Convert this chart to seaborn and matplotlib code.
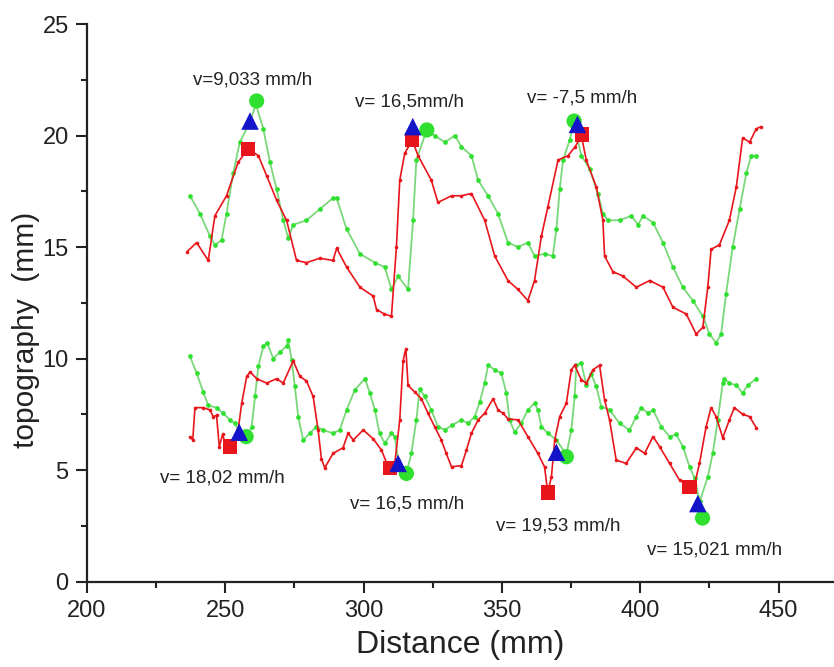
import matplotlib
matplotlib.use("Agg")
import matplotlib.pyplot as plt
import seaborn as sns
import pandas as pd
from matplotlib.ticker import MultipleLocator

# ---- data ----
upper_red_x = [236.3, 239.7, 243.9, 246.3, 250.5, 254.7, 258.3, 262.0, 265.0, 268.6, 272.2, 275.8, 279.4, 284.2,
               289.0, 290.3, 293.9, 298.7, 303.5, 304.7, 307.5, 310.1, 311.9, 313.1, 314.9, 317.6, 319.7, 324.5,
               326.9, 331.8, 335.4, 339.0, 343.8, 347.4, 352.2, 355.8, 359.4, 361.8, 364.3, 366.6, 370.3, 373.9,
               376.5, 378.7, 380.5, 384.1, 386.5, 387.1, 390.1, 393.7, 398.6, 403.4, 408.2, 411.8, 416.6, 420.2,
               422.6, 424.4, 425.6, 428.6, 432.2, 434.7, 437.0, 439.5, 441.9, 443.6]
upper_red_y = [14.8, 15.2, 14.4, 16.4, 17.3, 18.8, 19.4, 19.1, 18.2, 17.1, 16.2, 14.4, 14.3, 14.5,
               14.4, 14.95, 14.1, 13.2, 12.8, 12.2, 12.0, 11.9, 15.0, 18.0, 19.2, 19.8, 19.1, 18.0,
               17.0, 17.3, 17.3, 17.4, 16.2, 14.6, 13.5, 13.1, 12.6, 13.5, 15.5, 16.8, 18.9, 19.1,
               19.5, 20.0, 18.9, 17.7, 16.2, 14.6, 13.9, 13.7, 13.2, 13.5, 13.2, 12.3, 12.0, 11.1,
               11.4, 13.2, 14.9, 15.1, 16.2, 17.7, 19.9, 19.7, 20.3, 20.4]

upper_green_x = [237.3, 240.9, 244.5, 246.3, 248.7, 250.5, 252.9, 255.3, 259.0, 261.1, 263.8, 266.2, 268.6, 271.0,
                 272.8, 274.6, 279.4, 284.2, 289.0, 290.3, 293.9, 298.7, 304.1, 307.7, 310.1, 312.5, 316.1, 317.9,
                 319.1, 322.7, 325.7, 329.4, 333.0, 335.4, 339.0, 341.4, 345.0, 348.6, 352.2, 355.8, 359.4, 361.8,
                 365.4, 368.4, 369.7, 370.9, 372.1, 374.5, 376.0, 378.7, 381.7, 384.7, 386.5, 388.3, 392.5, 396.8,
                 399.2, 401.0, 404.6, 408.2, 411.8, 415.4, 419.0, 422.6, 425.0, 427.4, 429.2, 431.0, 433.4, 435.9,
                 438.3, 440.1, 441.9]
upper_green_y = [17.3, 16.5, 15.5, 15.1, 15.3, 16.5, 18.3, 19.7, 20.6, 21.4, 20.3, 18.8, 17.6, 16.2,
                 15.4, 16.0, 16.2, 16.7, 17.2, 17.2, 15.8, 14.7, 14.3, 14.1, 13.1, 13.7, 13.1, 16.2,
                 18.9, 20.2, 20.0, 19.7, 20.0, 19.5, 19.1, 18.0, 17.3, 16.5, 15.2, 15.0, 15.2, 14.6,
                 14.7, 14.6, 15.8, 17.6, 18.9, 19.8, 20.6, 19.1, 18.5, 17.4, 16.5, 16.2, 16.2, 16.4,
                 16.0, 16.4, 16.1, 15.2, 14.1, 13.2, 12.6, 11.9, 11.1, 10.7, 11.1, 12.9, 15.0, 16.7,
                 18.3, 19.1, 19.1]

lower_red_x = [237.3, 238.3, 239.1, 242.1, 244.5, 245.7, 246.9, 247.9, 249.1, 250.0, 251.7, 253.5, 254.7, 256.0,
               257.8, 259.0, 261.4, 265.0, 268.6, 271.0, 274.6, 277.0, 279.4, 281.8, 283.6, 284.8, 286.0, 289.0,
               292.6, 294.4, 296.3, 299.9, 303.5, 306.5, 308.9, 311.3, 313.1, 314.3, 315.3, 316.1, 318.5, 320.9,
               323.3, 325.7, 328.1, 329.9, 331.8, 335.4, 337.2, 339.0, 341.4, 343.8, 346.8, 348.6, 350.4, 352.2,
               355.8, 359.4, 363.0, 365.4, 366.6, 367.9, 369.1, 370.9, 373.3, 375.1, 376.3, 378.7, 380.5, 382.9,
               385.3, 387.1, 388.9, 391.3, 394.9, 398.6, 401.6, 404.6, 407.0, 410.6, 414.2, 417.8, 419.6, 421.4,
               423.8, 425.6, 427.4, 429.8, 432.2, 434.0, 437.0, 439.5, 441.9]
lower_red_y = [6.5, 6.35, 7.8, 7.8, 7.7, 7.4, 7.45, 6.05, 6.6, 6.2, 6.1, 6.35, 6.8, 8.0,
               9.2, 9.4, 9.1, 8.9, 9.1, 8.9, 9.9, 9.2, 9.0, 8.3, 6.8, 5.5, 5.1, 5.75,
               6.0, 6.65, 6.35, 6.8, 6.4, 5.9, 5.15, 5.3, 7.25, 9.9, 10.45, 8.8, 8.5, 8.2,
               7.55, 6.95, 6.35, 5.75, 5.15, 5.2, 5.9, 6.65, 7.25, 7.55, 8.2, 7.7, 7.55, 7.3,
               7.25, 6.5, 5.75, 5.15, 4.0, 4.7, 6.35, 7.4, 8.0, 9.5, 9.7, 9.05, 8.9, 9.5,
               9.7, 8.15, 7.25, 5.45, 5.3, 6.0, 5.75, 6.5, 6.05, 5.3, 4.55, 4.25, 4.35, 5.3,
               6.95, 7.8, 7.4, 6.45, 7.25, 7.8, 7.5, 7.4, 6.9]

lower_green_x = [237.3, 239.7, 242.1, 243.9, 246.9, 249.3, 251.7, 253.5, 255.1, 257.8, 259.6, 260.8, 262.0, 263.8,
                 265.2, 267.4, 269.8, 272.2, 272.8, 274.0, 275.2, 276.4, 278.2, 280.6, 283.0, 285.4, 289.0, 291.4,
                 293.9, 296.9, 300.5, 302.3, 304.1, 305.8, 307.7, 310.1, 311.3, 312.5, 315.5, 317.3, 319.1, 320.3,
                 322.1, 324.5, 326.9, 329.4, 331.8, 335.4, 337.8, 340.2, 342.0, 343.8, 345.0, 347.4, 349.8, 351.6,
                 352.8, 354.6, 357.0, 359.4, 361.8, 363.0, 364.3, 366.6, 369.7, 373.3, 375.1, 376.3, 376.9, 378.7,
                 380.5, 382.3, 384.1, 385.9, 388.9, 392.5, 396.1, 398.6, 400.4, 402.8, 404.6, 407.6, 410.6, 413.0,
                 415.4, 417.8, 419.6, 421.5, 424.4, 426.2, 428.0, 429.8, 430.4, 432.2, 434.7, 437.0, 438.8, 441.9]
lower_green_y = [10.1, 9.35, 8.5, 7.9, 7.8, 7.55, 7.25, 7.1, 6.7, 6.5, 6.95, 8.3, 9.65, 10.55,
                 10.7, 10.0, 10.3, 10.55, 10.85, 9.95, 8.75, 7.4, 6.35, 6.65, 6.95, 6.8, 6.65, 6.8,
                 7.7, 8.6, 9.1, 8.45, 7.7, 6.65, 6.2, 6.65, 6.5, 5.45, 4.85, 5.75, 7.25, 8.65,
                 8.3, 7.7, 6.95, 6.8, 7.0, 7.25, 7.1, 7.4, 8.05, 8.9, 9.7, 9.5, 9.35, 8.45,
                 7.25, 6.7, 7.1, 7.7, 8.0, 7.7, 6.95, 6.65, 6.35, 5.7, 6.8, 8.3, 9.7, 9.8,
                 8.8, 9.3, 8.75, 7.85, 7.7, 7.1, 6.8, 7.4, 7.8, 7.55, 7.7, 6.95, 6.5, 6.6,
                 6.05, 5.15, 4.65, 3.6, 4.7, 5.75, 7.25, 8.9, 9.1, 8.9, 8.8, 8.45, 8.8, 9.1]

square_x = [258.2, 317.6, 378.9, 251.7, 309.5, 366.6, 417.8]
square_y = [19.4, 19.8, 20.05, 6.05, 5.1, 4.0, 4.25]
triangle_x = [259.0, 317.8, 377.3, 255.1, 312.5, 369.7, 420.8]
triangle_y = [20.65, 20.4, 20.5, 6.7, 5.3, 5.8, 3.5]
circle_x = [261.4, 322.9, 376.1, 257.6, 315.5, 373.3, 422.5]
circle_y = [21.55, 20.25, 20.65, 6.5, 4.85, 5.6, 2.85]

label_texts = ["v=9,033 mm/h", "v= 16,5mm/h", "v= -7,5 mm/h", "v= 18,02 mm/h",
               "v= 16,5 mm/h", "v= 19,53 mm/h", "v= 15,021 mm/h"]
label_x = [260.0, 316.7, 379.0, 248.9, 315.6, 370.5, 427.0]
label_y = [22.5, 21.5, 21.7, 4.65, 3.5, 2.5, 1.4]

x_ticks = [200, 250, 300, 350, 400, 450]
y_ticks = [0, 5, 10, 15, 20, 25]

# ---- style ----
sns.set_style("ticks")
plt.rcParams["font.family"] = ["Liberation Sans", "DejaVu Sans"]

RED = "#e8161c"
GREEN = "#2fe02f"
BLUE = "#1414c8"

fig = plt.figure(figsize=(8.34, 6.67), dpi=100)
ax = fig.add_axes([0.104, 0.128, 0.896, 0.836])

def draw_red(xs, ys):
    df = pd.DataFrame({"x": xs, "y": ys})
    sns.lineplot(data=df, x="x", y="y", ax=ax, sort=False, estimator=None,
                 color=RED, linewidth=1.2, marker="o", markersize=2.6,
                 markeredgewidth=0, markerfacecolor=RED)

def draw_green(xs, ys):
    df = pd.DataFrame({"x": xs, "y": ys})
    sns.lineplot(data=df, x="x", y="y", ax=ax, sort=False, estimator=None,
                 color="#7ad87a", linewidth=1.3, marker="o", markersize=3.4,
                 markeredgewidth=0, markerfacecolor=GREEN)

draw_green(upper_green_x, upper_green_y)
draw_red(upper_red_x, upper_red_y)
draw_green(lower_green_x, lower_green_y)
draw_red(lower_red_x, lower_red_y)

sns.scatterplot(x=square_x, y=square_y, ax=ax, marker="s", s=110, color=RED, edgecolor="none", zorder=5)
sns.scatterplot(x=triangle_x, y=triangle_y, ax=ax, marker="^", s=160, color=BLUE, edgecolor="none", zorder=6)
sns.scatterplot(x=circle_x, y=circle_y, ax=ax, marker="o", s=120, color=GREEN, edgecolor="none", zorder=4)

for t, x, y in zip(label_texts, label_x, label_y):
    ax.text(x, y, t, ha="center", va="center", fontsize=13.5, color="#222222")

ax.set_xlim(200, 470)
ax.set_ylim(0, 25)
ax.set_xticks(x_ticks)
ax.set_yticks(y_ticks)
ax.xaxis.set_minor_locator(MultipleLocator(25))
ax.yaxis.set_minor_locator(MultipleLocator(2.5))
ax.tick_params(axis="both", which="major", direction="out", length=8, width=1.5,
               labelsize=17, pad=5, color="#222222", labelcolor="#222222")
ax.tick_params(axis="both", which="minor", direction="out", length=4, width=1.5, color="#222222")
for side in ["top", "right"]:
    ax.spines[side].set_visible(False)
for side in ["left", "bottom"]:
    ax.spines[side].set_linewidth(1.6)
    ax.spines[side].set_color("#222222")

ax.set_xlabel("Distance (mm)", fontsize=23, color="#222222", labelpad=6)
ax.set_ylabel("topography  (mm)", fontsize=21.5, color="#222222")
ax.yaxis.set_label_coords(-0.0625, 0.451)

fig.savefig("out.png", dpi=100)
